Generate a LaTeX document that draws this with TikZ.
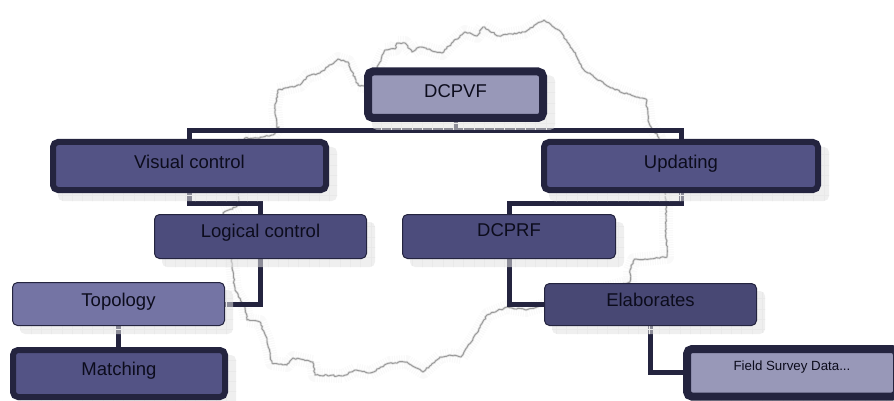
\documentclass[tikz,border=0pt]{standalone}
\usepackage{fontspec}
\setmainfont{Liberation Sans}
\usetikzlibrary{calc,decorations.pathmorphing}
\pgfdeclarelayer{maplayer}
\pgfdeclarelayer{linklayer}
\pgfdeclarelayer{shadowlayer}
\pgfsetlayers{maplayer,linklayer,shadowlayer,main}
\definecolor{edgedark}{HTML}{24243F}
\definecolor{fillpale}{HTML}{9898B8}
\definecolor{fillvis}{HTML}{535385}
\definecolor{filllog}{HTML}{4C4C7C}
\definecolor{filltop}{HTML}{7474A4}
\definecolor{fillela}{HTML}{484874}
\definecolor{inktext}{HTML}{0C0C1C}
\definecolor{shadowgrey}{HTML}{E2E2E2}
\definecolor{gridgrey}{HTML}{E9E9E9}
\newcommand{\basetext}[2]{\smash{\raisebox{#1}{#2}}}
\newcommand{\softshadow}[1]{%
  \begin{scope}
    \clip[rounded corners=5pt] ($(#1.north west)+(8,8)$) rectangle ($(#1.south east)+(8,8)$);
    \fill[shadowgrey,opacity=.55] (0,0) rectangle (910,410);
    \foreach \gx in {0,10.3,...,910} {\draw[gridgrey,line width=.5pt] (\gx,0) -- (\gx,410);}
    \foreach \gy in {0,10.3,...,410} {\draw[gridgrey,line width=.5pt] (0,\gy) -- (910,\gy);}
  \end{scope}}
\tikzset{
  orgbox/.style={rectangle,rounded corners=5pt,text=inktext,inner sep=0pt,font=\fontsize{18.5pt}{20pt}\selectfont},
  heavybox/.style={orgbox,draw=edgedark,line width=6pt},
  thinbox/.style={orgbox,draw=edgedark,line width=1pt},
  linkline/.style={draw=edgedark,line width=5pt},
  mapline/.style={line join=round,decorate,decoration={random steps,segment length=2pt,amplitude=.8pt}}
}
\begin{document}
\begin{tikzpicture}[x=1pt,y=-1pt]
\clip (0,0) rectangle (894,401);
\node[heavybox,line width=8pt,fill=fillpale,minimum width=175pt,minimum height=46.5pt] (dcpvf) at (455.5,94.75) {\basetext{-2.5pt}{DCPVF}};
\node[heavybox,fill=fillvis,minimum width=273pt,minimum height=48pt] (visual) at (189.5,166) {\basetext{-2pt}{Visual control}};
\node[heavybox,fill=fillvis,minimum width=274pt,minimum height=48pt] (updating) at (681,166) {\basetext{-2pt}{Updating}};
\node[thinbox,fill=filllog,minimum width=212pt,minimum height=44pt] (logical) at (260.5,236.5) {\basetext{-1pt}{Logical control}};
\node[thinbox,fill=filllog,minimum width=213pt,minimum height=44pt] (dcprf) at (509,236.5) {\basetext{0pt}{DCPRF}};
\node[thinbox,fill=filltop,minimum width=212pt,minimum height=43pt] (topology) at (118.5,304) {\basetext{-2pt}{Topology}};
\node[heavybox,fill=fillvis,minimum width=212pt,minimum height=47pt] (matching) at (119,373.5) {\basetext{-1.5pt}{Matching}};
\node[thinbox,fill=fillela,minimum width=212pt,minimum height=42pt] (elaborates) at (650.5,304.5) {\basetext{-1.5pt}{Elaborates}};
\node[heavybox,line width=8pt,fill=fillpale,minimum width=210pt,minimum height=47.6pt,font=\fontsize{13.3pt}{15pt}\selectfont] (field) at (792,372.8) {\basetext{2pt}{Field Survey Data...}};
\begin{pgfonlayer}{shadowlayer}
  \softshadow{dcpvf}\softshadow{visual}\softshadow{updating}\softshadow{logical}\softshadow{dcprf}\softshadow{topology}\softshadow{matching}\softshadow{elaborates}\softshadow{field}
\end{pgfonlayer}
\coordinate (busA) at (455.5,130.5);
\coordinate (busB) at (225,203);
\coordinate (busC) at (595,203);
\begin{pgfonlayer}{linklayer}
  \draw[linkline] (dcpvf.south) -- (busA);
  \draw[linkline] (visual.north) |- (busA) -| (updating.north);
  \draw[linkline] (visual.south) |- (busB) -| (logical.north);
  \draw[linkline] (updating.south) |- (busC) -| (dcprf.north);
  \draw[linkline] (logical.south) |- (topology.east);
  \draw[linkline] (topology.south) -- (topology.south |- matching.north);
  \draw[linkline] (dcprf.south) |- (elaborates.west);
  \draw[linkline] (elaborates.south) |- (field.west);
\end{pgfonlayer}
\begin{pgfonlayer}{maplayer}
  \def\mapoutline{(277,128) -- (275,107) -- (278,90) -- (300,85) -- (308,76) -- (320,73) -- (338,59) -- (348,62) -- (358,85) -- (364,86) -- (377,68) -- (385,50) -- (395,49) -- (397,43) -- (405,43) -- (412,52) -- (420,47) -- (442,53) -- (453,42) -- (465,32) -- (477,36) -- (483,27) -- (499,36) -- (524,32) -- (544,20) -- (561,32) -- (574,52) -- (584,70) -- (611,88) -- (636,97) -- (646,99) -- (649,123) -- (659,138) -- (666,205) -- (666,233) -- (667,257) -- (634,260) -- (630,270) -- (630,282) -- (526,310) -- (507,307) -- (487,315) -- (477,333) -- (461,357) -- (450,355) -- (440,357) -- (423,372) -- (407,362) -- (390,363) -- (370,373) -- (355,370) -- (343,376) -- (315,375) -- (313,362) -- (293,358) -- (287,365) -- (272,363) -- (267,340) -- (260,322) -- (247,320) -- (245,307) -- (235,290) -- (232,263) -- (223,213) -- (240,205) -- (238,193) -- (245,138) -- (257,138) -- (273,135) -- (279,127) -- cycle}
  \draw[line width=14pt,line join=round,draw=black!2.5,dash pattern=on 1.2pt off 1.2pt] \mapoutline;
  \pgfmathsetseed{11}
  \draw[mapline,line width=2.4pt,draw=black!12] \mapoutline;
  \pgfmathsetseed{11}
  \draw[mapline,line width=.9pt,draw=black!40] \mapoutline;
\end{pgfonlayer}
\end{tikzpicture}
\end{document}
